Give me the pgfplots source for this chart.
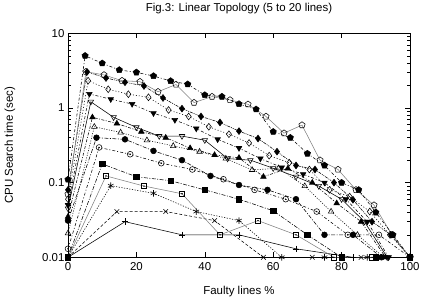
\documentclass[border=0pt]{standalone}
\usepackage{fontspec}
\setmainfont{Liberation Sans}
\usepackage{pgfplots}
\pgfplotsset{compat=1.18}
\usetikzlibrary{plotmarks}
\pgfdeclareplotmark{codot}{%
  \pgfpathcircle{\pgfpointorigin}{\pgfplotmarksize}\pgfusepathqstroke
  \pgfpathcircle{\pgfpointorigin}{0.4pt}\pgfusepathqfillstroke}
\pgfdeclareplotmark{csqdot}{%
  \pgfpathrectangle{\pgfpoint{-\pgfplotmarksize}{-\pgfplotmarksize}}{\pgfpoint{2\pgfplotmarksize}{2\pgfplotmarksize}}\pgfusepathqstroke
  \pgfpathcircle{\pgfpointorigin}{0.4pt}\pgfusepathqfillstroke}
\begin{document}
\begin{tikzpicture}[font=\fontsize{11.5}{13}\selectfont]
\path[use as bounding box] (-68bp,-46bp) rectangle (354bp,257.3bp);
\begin{axis}[
  at={(0,0)}, anchor=south west,
  scale only axis, width=342bp, height=224bp,
  xmin=0, xmax=100, ymode=log, ymin=0.01, ymax=10,
  xtick={0,20,40,60,80,100},
  ytick={0.01,0.1,1,10}, yticklabels={0.01,0.1,1,10},
  /pgf/number format/assume math mode=true,
  tick align=inside, tick pos=both,
  major tick length=5bp, minor tick length=3bp,
  axis line style={line width=0.7pt},
  every tick/.style={black, line width=0.5pt},
  title={Fig.3: Linear Topology (5 to 20 lines)},
  title style={at={(axis description cs:0.5,1.072)}, anchor=base, inner sep=0pt},
  xlabel={Faulty lines \%},
  xlabel style={at={(axis description cs:0.5,-0.165)}, anchor=base, inner sep=0pt},
  ylabel={CPU Search time (sec)},
  ylabel style={at={(axis description cs:-0.17,0.5)}, anchor=center, inner sep=0pt},
  xticklabel style={yshift=-2bp},
  clip=false,
  every axis plot/.append style={line width=0.55pt, mark size=2.9pt},
]
% n=6  (+)
\addplot[black, solid, mark=+, mark size=3.3pt, mark options={solid}] coordinates {
(0,0.01) (16.67,0.030) (33.33,0.020) (50,0.020) (66.67,0.013) (83.33,0.01) (100,0.01)};
% n=7 (x)
\addplot[black, dash pattern=on 3pt off 2pt, mark=x, mark size=3.3pt, mark options={solid}] coordinates {
(0,0.01) (14.29,0.041) (28.57,0.041) (42.86,0.031) (57.14,0.01) (71.43,0.01) (85.71,0.01) (100,0.01)};
% n=8 (*)
\addplot[black, dash pattern=on 1.2pt off 1.5pt, mark=asterisk, mark size=3.3pt, mark options={solid}] coordinates {
(0,0.01) (12.5,0.091) (25,0.072) (37.5,0.041) (50,0.031) (62.5,0.01) (75,0.01) (87.5,0.01) (100,0.01)};
% n=9 (open square)
\addplot[gray, solid, mark=csqdot, mark size=2.7pt, mark options={black, solid}] coordinates {
(0,0.01) (11.11,0.123) (22.22,0.090) (33.33,0.071) (44.44,0.020) (55.56,0.031) (66.67,0.020) (77.78,0.01) (88.89,0.01) (100,0.01)};
% n=10 (filled square)
\addplot[black, dash pattern=on 4pt off 1.5pt on 1pt off 1.5pt, mark=square*, mark size=2.7pt, mark options={solid}] coordinates {
(0,0.01) (10,0.178) (20,0.120) (30,0.106) (40,0.080) (50,0.060) (60,0.042) (70,0.020) (80,0.01) (90,0.01) (100,0.01)};
% n=11 (open circle)
\addplot[black, dash pattern=on 3pt off 2pt on 1pt off 2pt, mark=codot, mark options={solid}] coordinates {
(0,0.013) (9.09,0.296) (18.18,0.24) (27.27,0.182) (36.36,0.15) (45.45,0.111) (54.55,0.08) (63.64,0.060) (72.73,0.041) (81.82,0.020) (90.91,0.02) (100,0.01)};
% n=12 (filled circle)
\addplot[black, dash pattern=on 4pt off 1.5pt on 1pt off 1.5pt, mark=*, mark options={solid}] coordinates {
(0,0.031) (8.33,0.40) (16.67,0.38) (25,0.266) (33.33,0.20) (41.67,0.123) (50,0.093) (58.33,0.080) (66.67,0.060) (75,0.020) (83.33,0.020) (91.67,0.01) (100,0.01)};
% n=13 (open triangle)
\addplot[black, dash pattern=on 1pt off 1.5pt, mark=triangle, mark size=3.2pt, mark options={solid}] coordinates {
(0,0.021) (7.69,0.56) (15.38,0.47) (23.08,0.37) (30.77,0.31) (38.46,0.26) (46.15,0.21) (53.85,0.148) (61.54,0.156) (69.23,0.09) (76.92,0.041) (84.62,0.02) (92.31,0.01) (100,0.01)};
% n=14 (filled triangle)
\addplot[black, dash pattern=on 3pt off 1.5pt on 1pt off 1.5pt, mark=triangle*, mark size=3.2pt, mark options={solid}] coordinates {
(0,0.035) (7.14,0.75) (14.29,0.62) (21.43,0.48) (28.57,0.40) (35.71,0.29) (42.86,0.235) (50,0.215) (57.14,0.12) (64.29,0.155) (71.43,0.10) (78.57,0.053) (85.71,0.030) (92.86,0.01) (100,0.01)};
% n=15 (open inverted triangle)
\addplot[black, solid, mark=triangle, mark size=3.2pt, mark options={solid, rotate=180}] coordinates {
(0,0.045) (6.67,1.21) (13.33,0.75) (20,0.55) (26.67,0.42) (33.33,0.42) (40,0.37) (46.67,0.21) (53.33,0.20) (60,0.156) (66.67,0.12) (73.33,0.09) (80,0.06) (86.67,0.03) (93.33,0.01) (100,0.01)};
% n=16 (filled inverted triangle)
\addplot[black, dash pattern=on 3pt off 2pt on 1pt off 2pt, mark=triangle*, mark size=3.2pt, mark options={solid, rotate=180}] coordinates {
(0,0.05) (6.25,1.54) (12.5,1.31) (18.75,1.13) (25,0.85) (31.25,0.69) (37.5,0.53) (43.75,0.38) (50,0.29) (56.25,0.21) (62.5,0.16) (68.75,0.13) (75,0.10) (81.25,0.06) (87.5,0.03) (93.75,0.01) (100,0.01)};
% n=17 (open diamond)
\addplot[black, dash pattern=on 1pt off 2pt, mark=diamond, mark size=3.4pt, mark options={solid}] coordinates {
(0,0.06) (5.88,2.32) (11.76,1.78) (17.65,1.53) (23.53,1.39) (29.41,0.94) (35.29,0.77) (41.18,0.56) (47.06,0.445) (52.94,0.34) (58.82,0.23) (64.71,0.185) (70.59,0.15) (76.47,0.08) (82.35,0.065) (88.24,0.041) (94.12,0.02) (100,0.01)};
% n=18 (filled diamond)
\addplot[black, dash pattern=on 3pt off 1pt on 1pt off 1pt on 1pt off 1pt, mark=diamond*, mark size=3.4pt, mark options={solid}] coordinates {
(0,0.08) (5.56,3.04) (11.11,2.52) (16.67,2.21) (22.22,1.97) (27.78,1.36) (33.33,0.98) (38.89,0.77) (44.44,0.64) (50,0.49) (55.56,0.39) (61.11,0.26) (66.67,0.17) (72.22,0.15) (77.78,0.10) (83.33,0.059) (88.89,0.030) (94.44,0.02) (100,0.01)};
% n=19 (open pentagon)
\addplot[gray, solid, mark=pentagon, mark size=3.3pt, mark options={black, solid}] coordinates {
(0,0.07) (5.26,3.06) (10.53,2.77) (15.79,2.32) (21.05,2.25) (26.32,1.65) (31.58,2.06) (36.84,1.18) (42.11,1.42) (47.37,1.28) (52.63,1.12) (57.89,0.77) (63.16,0.46) (68.42,0.59) (73.68,0.20) (78.95,0.15) (84.21,0.08) (89.47,0.05) (94.74,0.02) (100,0.01)};
% n=20 (filled pentagon)
\addplot[black, dash pattern=on 3pt off 2pt on 1pt off 2pt, mark=pentagon*, mark size=3.3pt, mark options={solid}] coordinates {
(0,0.11) (5,5.0) (10,3.97) (15,3.23) (20,3.0) (25,2.68) (30,2.30) (35,2.08) (40,1.49) (45,1.42) (50,1.13) (55,0.96) (60,0.48) (65,0.40) (70,0.245) (75,0.17) (80,0.10) (85,0.08) (90,0.04) (95,0.02) (100,0.01)};
\end{axis}
\end{tikzpicture}
\end{document}
